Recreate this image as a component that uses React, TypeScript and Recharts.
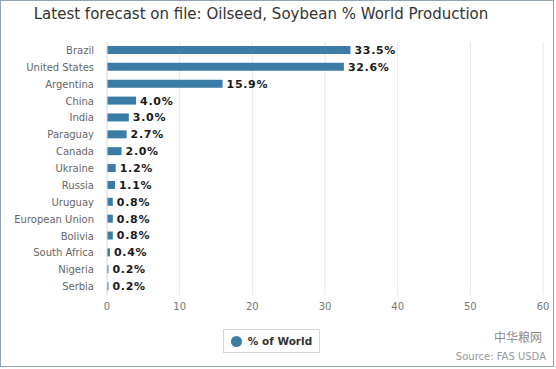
import React from 'react'
import { BarChart, Bar, XAxis, YAxis, CartesianGrid, Legend, LabelList } from 'recharts'

const countries = [
  'Brazil', 'United States', 'Argentina', 'China', 'India', 'Paraguay', 'Canada',
  'Ukraine', 'Russia', 'Uruguay', 'European Union', 'Bolivia', 'South Africa', 'Nigeria', 'Serbia',
]
const shares = [33.5, 32.6, 15.9, 4.0, 3.0, 2.7, 2.0, 1.2, 1.1, 0.8, 0.8, 0.8, 0.4, 0.2, 0.2]
const xTicks = [0, 10, 20, 30, 40, 50, 60]

const data = countries.map((c, i) => ({ country: c, share: shares[i] }))

const BLUE = '#3a7ca5'
const FONT = '"DejaVu Sans", Verdana, sans-serif'

const LegendBox = () => (
  <div style={{ display: 'flex', justifyContent: 'center' }}>
    <div style={{
      height: 22, border: '1px solid #d6d6d6', display: 'flex', alignItems: 'center',
      padding: '0 7px 0 7px', fontFamily: FONT, fontSize: 10.5, fontWeight: 'bold', color: '#333',
    }}>
      <span style={{ width: 11, height: 11, borderRadius: '50%', background: BLUE, display: 'inline-block', marginRight: 6 }} />
      % of World
    </div>
  </div>
)

export default function App() {
  return (
    <div style={{ position: 'fixed', left: 0, top: 0, width: 556, height: 369, background: '#fff' }}>
      <div style={{
        position: 'absolute', left: 0, top: 0, width: 552, height: 365,
        border: '1px solid #8fa3b5', pointerEvents: 'none',
      }} />
      <div style={{
        position: 'absolute', left: 0, width: 522, top: 5, textAlign: 'center',
        fontFamily: FONT, fontSize: 15, color: '#333',
      }}>
        Latest forecast on file: Oilseed, Soybean % World Production
      </div>
      <BarChart
        width={556}
        height={369}
        data={data}
        layout="vertical"
        margin={{ top: 42, right: 13, left: 0, bottom: 16 }}
        barCategoryGap={0}
      >
        <CartesianGrid horizontal={false} stroke="#e6e6e6" />
        <XAxis
          type="number"
          domain={[0, 60]}
          ticks={xTicks}
          interval={0}
          axisLine={false}
          tickLine={false}
          tickSize={0}
          tickMargin={8}
          height={34}
          tick={{ fontSize: 10, fill: '#777', fontFamily: FONT }}
        />
        <YAxis
          type="category"
          dataKey="country"
          width={107}
          axisLine={{ stroke: '#dde3ea' }}
          tickLine={false}
          tickSize={0}
          tickMargin={13}
          interval={0}
          tick={{ fontSize: 10, fill: '#666', fontFamily: FONT }}
        />
        <Legend verticalAlign="bottom" content={<LegendBox />} />
        <Bar dataKey="share" name="% of World" fill={BLUE} barSize={8} isAnimationActive={false}>
          <LabelList
            dataKey="share"
            position="right"
            offset={4}
            formatter={(v: number) => `${v.toFixed(1)}%`}
            style={{ fontSize: 11, fontWeight: 'bold', fill: '#1a1a1a', fontFamily: FONT, letterSpacing: 0.7 }}
          />
        </Bar>
      </BarChart>
      <div style={{
        position: 'absolute', right: 14, top: 328, fontFamily: '"Noto Sans CJK SC", sans-serif',
        fontSize: 12, color: '#8a8a8a',
      }}>
        中华粮网
      </div>
      <div style={{
        position: 'absolute', right: 10, top: 351, fontFamily: FONT,
        fontSize: 10, color: '#999',
      }}>
        Source: FAS USDA
      </div>
    </div>
  )
}
